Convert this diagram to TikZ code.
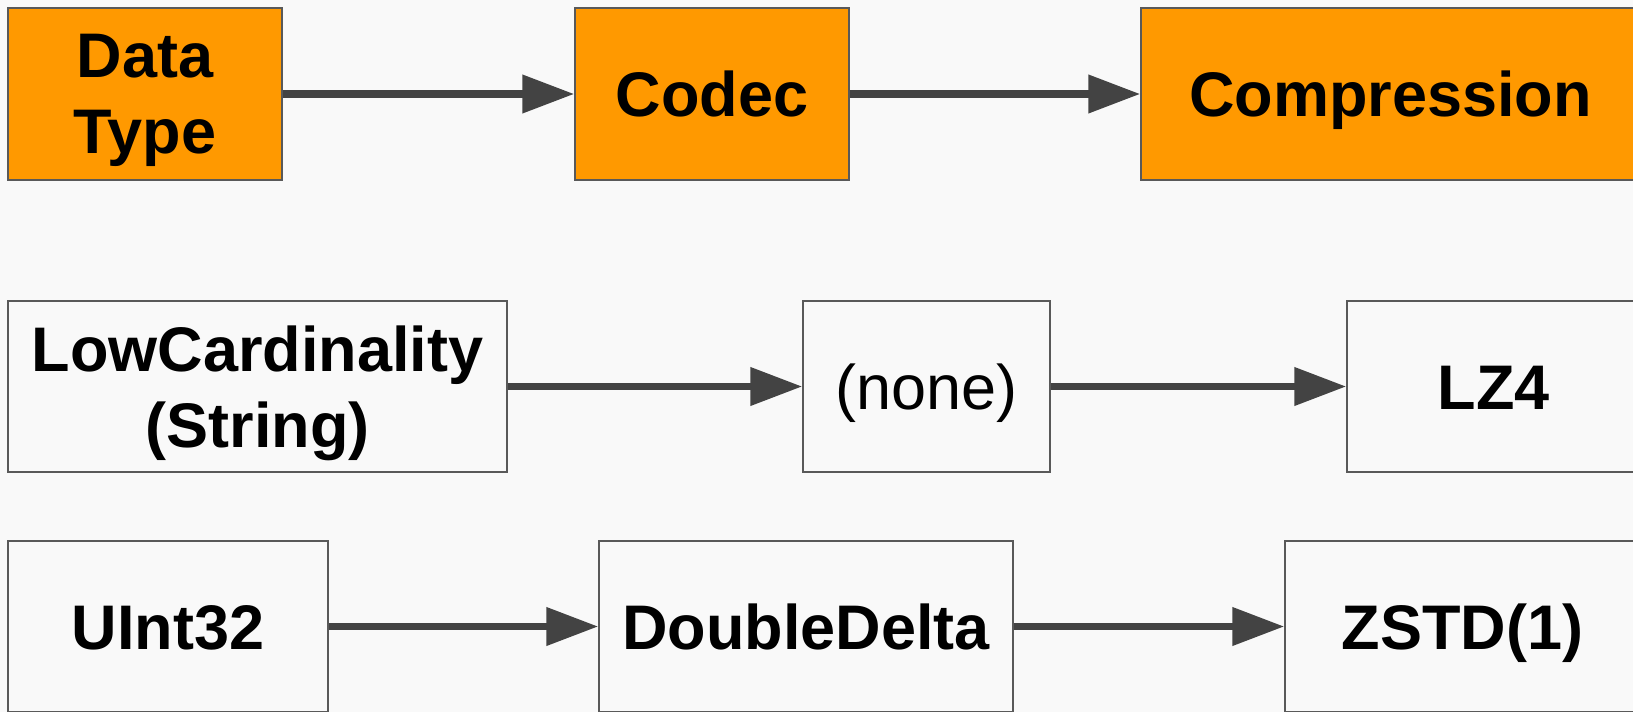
\documentclass[tikz,border=0pt]{standalone}
\usepackage{fontspec}
\setmainfont{Liberation Sans}
\usetikzlibrary{arrows.meta}
\definecolor{bg}{HTML}{F9F9F9}
\definecolor{orng}{HTML}{FF9900}
\definecolor{edgec}{HTML}{595959}
\definecolor{arrc}{HTML}{434343}
\newcommand{\nodep}[1]{\raisebox{0pt}[\height][0pt]{#1}}
\begin{document}
\begin{tikzpicture}[x=1pt,y=-1pt,
  box/.style={draw=edgec, line width=1.5pt, rectangle, inner sep=0pt, align=center,
    font=\fontsize{63}{76}\selectfont\bfseries},
  hot/.style={box, fill=orng},
  cold/.style={box, fill=bg},
  one/.style={text height=45pt, text depth=0pt},
  link/.style={draw=arrc, line width=7.5pt, -{Triangle[length=52pt,width=37pt]}}]
\fill[bg] (0,0) rectangle (1633,712);
\useasboundingbox (0,0) rectangle (1633,712);
% row 1
\node[hot, minimum width=274pt, minimum height=172pt] (dt) at (145,94) {Data\\\nodep{Type}};
\node[hot, one, minimum width=274pt, minimum height=172pt] (codec) at (712,94) {Codec};
\node[hot, one, minimum width=499pt, minimum height=172pt] (comp) at (1390.5,94) {Compression};
% row 2
\node[cold, minimum width=499pt, minimum height=171pt] (lc) at (257.5,386.5) {LowCardinality\\\nodep{(String)}};
\node[cold, one, minimum width=247pt, minimum height=171pt, font=\fontsize{63}{76}\selectfont\mdseries] (none) at (926.5,386.5) {(none)};
\node[cold, one, minimum width=293pt, minimum height=171pt] (lz) at (1493.5,386.5) {LZ4};
% row 3
\node[cold, one, minimum width=320pt, minimum height=171pt] (ui) at (168,626.5) {UInt32};
\node[cold, one, minimum width=414pt, minimum height=171pt] (dd) at (806,626.5) {DoubleDelta};
\node[cold, one, minimum width=355pt, minimum height=171pt] (zs) at (1462.5,626.5) {ZSTD(1)};
% connectors
\draw[link] (dt.east) -- (codec.west);
\draw[link] (codec.east) -- (comp.west);
\draw[link] (lc.east) -- (none.west);
\draw[link] (none.east) -- (lz.west);
\draw[link] (ui.east) -- (dd.west);
\draw[link] (dd.east) -- (zs.west);
\end{tikzpicture}
\end{document}
